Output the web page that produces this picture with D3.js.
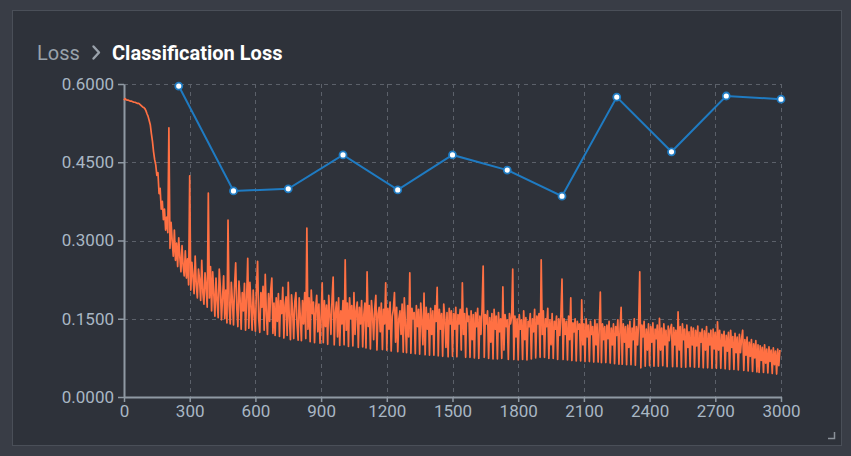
<!DOCTYPE html>
<html><head><meta charset="utf-8">
<script src="https://cdn.jsdelivr.net/npm/d3@7/dist/d3.min.js"></script>
<style>
html,body{margin:0;padding:0;background:#393d46;}
svg{display:block;font-family:Roboto,"Noto Sans",sans-serif;}
</style></head><body>
<svg id="chart" width="851" height="456"></svg>
<script>
const titleParent = "Loss";
const titleChild = "Classification Loss";
const xTicks = [0,300,600,900,1200,1500,1800,2100,2400,2700,3000];
const yTicks = [0,0.15,0.3,0.45,0.6];

// evaluation series (blue)
const evalSteps = [250,500,750,1000,1250,1500,1750,2000,2250,2500,2750,3000];
const evalLoss  = [0.596,0.395,0.399,0.464,0.397,0.464,0.435,0.385,0.575,0.470,0.577,0.571];

// training series (orange), one value every 5 steps from step 0
const trainStride = 5;
const trainLoss = [
0.569,0.572,0.570,0.569,0.569,0.568,0.567,0.567,0.566,0.565,0.565,0.564,0.563,0.563,0.562,0.560,0.558,0.556,0.555,0.553,
0.549,0.543,0.538,0.530,0.522,0.505,0.490,0.470,0.455,0.445,0.425,0.430,0.390,0.400,0.360,0.375,0.340,0.360,0.320,0.345,
0.315,0.516,0.285,0.335,0.300,0.270,0.320,0.262,0.295,0.250,0.305,0.268,0.240,0.290,0.252,0.232,0.280,0.228,0.265,0.215,
0.424,0.205,0.258,0.232,0.198,0.270,0.215,0.190,0.245,0.225,0.185,0.262,0.200,0.178,0.238,0.210,0.172,0.391,0.190,0.250,
0.165,0.240,0.198,0.155,0.228,0.185,0.152,0.245,0.210,0.148,0.190,0.232,0.150,0.205,0.142,0.339,0.175,0.140,0.220,0.185,
0.138,0.215,0.257,0.170,0.135,0.222,0.188,0.130,0.200,0.165,0.218,0.128,0.190,0.266,0.132,0.220,0.175,0.128,0.205,0.160,
0.126,0.210,0.260,0.150,0.124,0.200,0.172,0.212,0.128,0.235,0.160,0.120,0.198,0.145,0.205,0.228,0.122,0.180,0.118,0.190,
0.145,0.198,0.116,0.185,0.160,0.210,0.113,0.175,0.192,0.118,0.220,0.150,0.110,0.196,0.165,0.112,0.183,0.200,0.140,0.109,
0.190,0.155,0.108,0.185,0.140,0.200,0.112,0.324,0.130,0.190,0.106,0.205,0.160,0.182,0.104,0.170,0.195,0.125,0.178,0.103,
0.150,0.219,0.104,0.185,0.135,0.176,0.101,0.195,0.158,0.120,0.188,0.230,0.100,0.160,0.182,0.115,0.190,0.099,0.165,0.140,
0.185,0.100,0.263,0.128,0.180,0.097,0.190,0.150,0.175,0.098,0.200,0.120,0.165,0.182,0.095,0.172,0.140,0.185,0.096,0.158,
0.180,0.094,0.240,0.135,0.175,0.092,0.185,0.155,0.110,0.170,0.195,0.090,0.160,0.172,0.125,0.180,0.091,0.168,0.140,0.219,
0.090,0.170,0.130,0.182,0.088,0.155,0.168,0.200,0.105,0.172,0.087,0.150,0.165,0.120,0.178,0.086,0.190,0.140,0.085,0.175,
0.115,0.238,0.084,0.170,0.150,0.162,0.083,0.175,0.135,0.168,0.082,0.180,0.145,0.100,0.199,0.081,0.172,0.130,0.160,0.080,
0.170,0.120,0.165,0.080,0.175,0.145,0.210,0.079,0.168,0.130,0.160,0.078,0.178,0.150,0.095,0.162,0.077,0.170,0.140,0.165,
0.078,0.160,0.130,0.172,0.077,0.158,0.140,0.168,0.090,0.219,0.120,0.160,0.076,0.170,0.145,0.155,0.076,0.165,0.110,0.158,
0.075,0.162,0.135,0.170,0.074,0.155,0.120,0.168,0.251,0.076,0.158,0.140,0.165,0.074,0.152,0.105,0.160,0.073,0.168,0.130,
0.155,0.073,0.162,0.125,0.150,0.074,0.211,0.090,0.158,0.135,0.148,0.072,0.160,0.140,0.152,0.245,0.072,0.155,0.115,0.150,
0.071,0.158,0.130,0.148,0.072,0.165,0.110,0.152,0.071,0.145,0.135,0.160,0.073,0.150,0.125,0.168,0.075,0.155,0.140,0.160,
0.076,0.263,0.120,0.165,0.076,0.150,0.135,0.170,0.074,0.148,0.100,0.160,0.074,0.145,0.130,0.155,0.072,0.150,0.118,0.158,
0.226,0.072,0.150,0.120,0.145,0.071,0.155,0.110,0.190,0.070,0.142,0.125,0.150,0.069,0.145,0.130,0.140,0.069,0.186,0.100,
0.140,0.068,0.150,0.115,0.138,0.068,0.145,0.120,0.135,0.067,0.148,0.100,0.140,0.067,0.132,0.201,0.066,0.140,0.110,0.135,
0.066,0.138,0.112,0.145,0.065,0.132,0.100,0.140,0.064,0.135,0.118,0.148,0.063,0.130,0.172,0.063,0.140,0.105,0.135,0.062,
0.138,0.095,0.145,0.062,0.132,0.110,0.150,0.061,0.135,0.100,0.142,0.240,0.056,0.138,0.115,0.145,0.059,0.130,0.090,0.140,
0.060,0.135,0.105,0.142,0.059,0.130,0.112,0.138,0.059,0.151,0.090,0.132,0.060,0.140,0.100,0.128,0.058,0.136,0.108,0.130,
0.139,0.058,0.133,0.100,0.128,0.058,0.163,0.090,0.135,0.057,0.140,0.110,0.130,0.057,0.138,0.095,0.125,0.058,0.134,0.100,
0.132,0.057,0.128,0.098,0.136,0.057,0.124,0.105,0.130,0.056,0.127,0.090,0.135,0.056,0.122,0.100,0.128,0.055,0.130,0.092,
0.124,0.055,0.144,0.090,0.128,0.055,0.120,0.098,0.126,0.054,0.118,0.088,0.124,0.053,0.128,0.095,0.116,0.053,0.122,0.085,
0.115,0.052,0.120,0.085,0.112,0.128,0.051,0.110,0.080,0.115,0.050,0.105,0.078,0.110,0.049,0.102,0.075,0.108,0.048,0.100,
0.047,0.098,0.070,0.095,0.047,0.100,0.065,0.092,0.046,0.096,0.068,0.090,0.045,0.094,0.062,0.088,0.044,0.092,0.060,0.090
];

const svg = d3.select("#chart");

// panel
svg.append("rect").attr("x",12.5).attr("y",10.5).attr("width",829).attr("height",435)
  .attr("fill","#2e323a").attr("stroke","#4a4f58").attr("stroke-width",1);
// resize corner
svg.append("path").attr("d","M828,438.5 H834.5 V432").attr("fill","none").attr("stroke","#8a9199").attr("stroke-width",1.5);

// title
svg.append("text").attr("x",37).attr("y",60).attr("font-size",20).attr("fill","#9aa2ab").text(titleParent);
svg.append("path").attr("d","M93.5,46.5 L99,52.5 L93.5,58.5").attr("fill","none")
  .attr("stroke","#9aa2ab").attr("stroke-width",2.4).attr("stroke-linecap","round").attr("stroke-linejoin","round");
svg.append("text").attr("x",112).attr("y",60).attr("font-size",20).attr("font-weight","bold").attr("fill","#ffffff").text(titleChild);

const x = d3.scaleLinear().domain([0,3000]).range([124,781]);
const y = d3.scaleLinear().domain([0,0.6]).range([397,84]);

// grid
const grid = svg.append("g").attr("stroke","#5c616a").attr("stroke-dasharray","4,4").attr("stroke-width",1);
grid.selectAll("line.v").data(xTicks.filter(d=>d>0)).join("line")
  .attr("x1",d=>Math.round(x(d))+0.5).attr("x2",d=>Math.round(x(d))+0.5)
  .attr("y1",y(0.6)).attr("y2",y(0));
grid.selectAll("line.h").data(yTicks.filter(d=>d>0)).join("line")
  .attr("y1",d=>Math.round(y(d))+0.5).attr("y2",d=>Math.round(y(d))+0.5)
  .attr("x1",x(0)).attr("x2",x(3000));

// axes
const axColor = "#8f99a3", lblColor = "#a9b7c4";
const yAxis = svg.append("g").attr("transform",`translate(${x(0)},0)`)
  .call(d3.axisLeft(y).tickValues(yTicks).tickFormat(d3.format(".4f")).tickSize(6).tickSizeOuter(0).tickPadding(4));
const xAxis = svg.append("g").attr("transform",`translate(0,${y(0)})`)
  .call(d3.axisBottom(x).tickValues(xTicks).tickFormat(d3.format("d")).tickSize(5).tickSizeOuter(0).tickPadding(3));
[yAxis,xAxis].forEach(g=>{
  g.select(".domain").attr("stroke",axColor).attr("stroke-width",2);
  g.selectAll(".tick line").attr("stroke",axColor).attr("stroke-width",1.5);
  g.selectAll(".tick text").attr("fill",lblColor).attr("font-size",17).attr("font-family","Roboto,sans-serif");
});

// training line
const trainData = trainLoss.map((v,i)=>[i*trainStride, v]);
svg.append("path").datum(trainData)
  .attr("fill","none").attr("stroke","#ff7043").attr("stroke-width",1.7).attr("stroke-linejoin","round")
  .attr("d", d3.line().x(d=>x(d[0])).y(d=>y(d[1])));

// eval line
const evalData = evalSteps.map((s,i)=>[s, evalLoss[i]]);
svg.append("path").datum(evalData)
  .attr("fill","none").attr("stroke","#1f7bc2").attr("stroke-width",2)
  .attr("d", d3.line().x(d=>x(d[0])).y(d=>y(d[1])));
svg.selectAll("circle.pt").data(evalData).join("circle")
  .attr("cx",d=>x(d[0])).attr("cy",d=>y(d[1])).attr("r",3.5)
  .attr("fill","#ffffff").attr("stroke","#1f7bc2").attr("stroke-width",1.8);
</script>
</body></html>
